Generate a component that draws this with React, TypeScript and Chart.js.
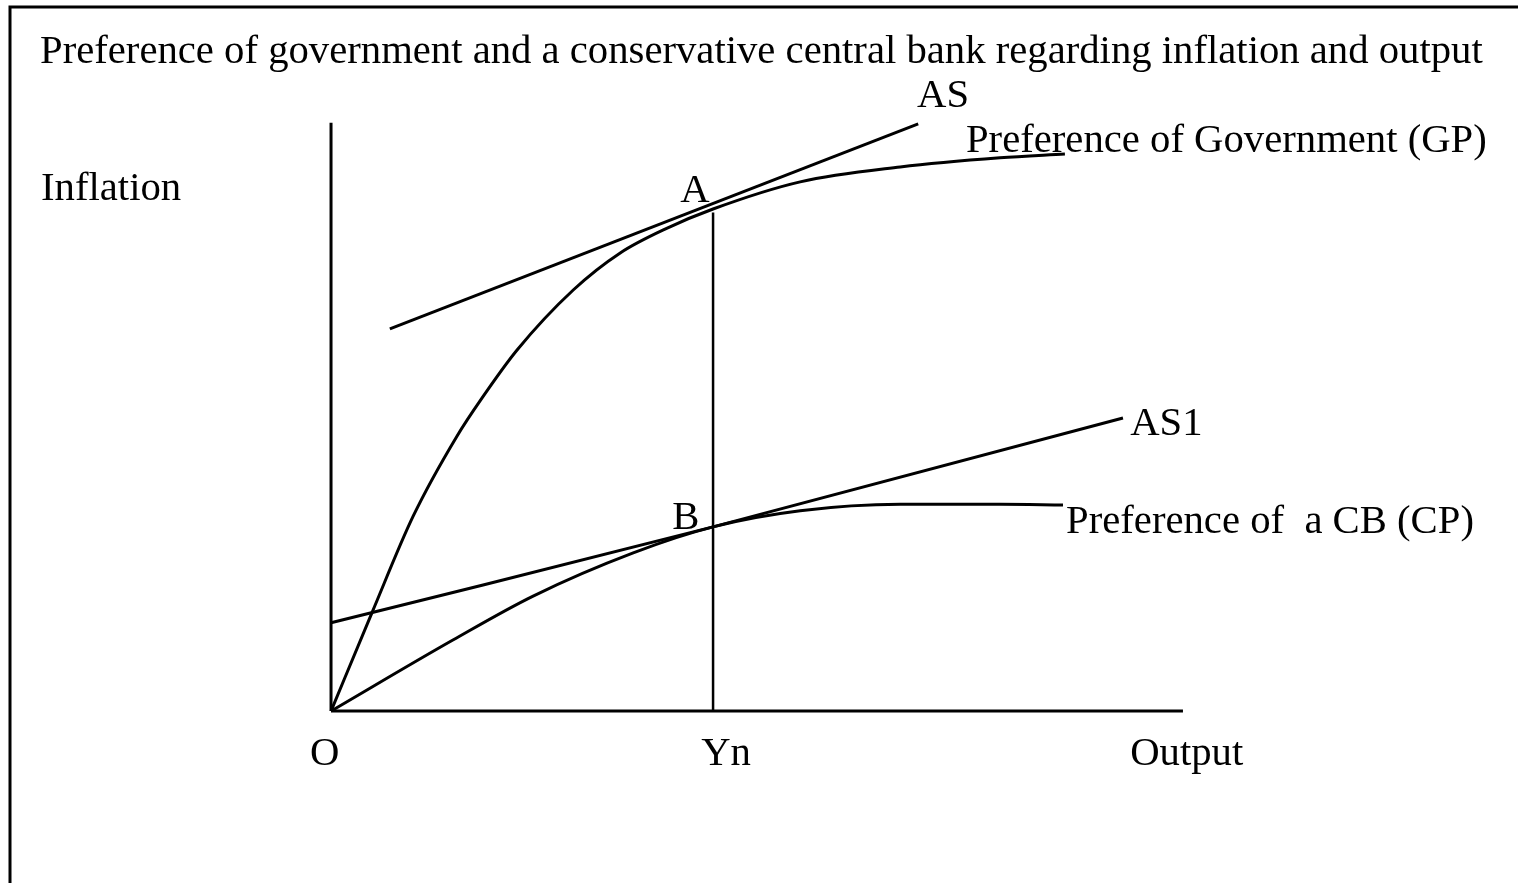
import React, { useEffect, useRef } from "react";
import { Chart, registerables } from "chart.js";

Chart.register(...registerables);

// Data units: Yn = 10 on the output axis; inflation in the same units.
const yAxisLine = [{ x: 0, y: 0 }, { x: 0, y: 15.4 }];
const xAxisLine = [{ x: 0, y: 0 }, { x: 22.3, y: 0 }];
const ynLine = [{ x: 10, y: 0 }, { x: 10, y: 13.05 }];

const asLine = [{ x: 1.54, y: 10.0 }, { x: 15.37, y: 15.37 }];
const as1Line = [
  { x: 0, y: 2.31 },
  { x: 3.98, y: 3.3 },
  { x: 10, y: 4.82 },
  { x: 20.73, y: 7.67 },
];

const gpCurve = [
  { x: 0, y: 0 },
  { x: 1.07, y: 2.57 },
  { x: 2.15, y: 5.1 },
  { x: 3.3, y: 7.2 },
  { x: 3.95, y: 8.19 },
  { x: 4.87, y: 9.45 },
  { x: 6.34, y: 11.02 },
  { x: 7.57, y: 11.99 },
  { x: 8.8, y: 12.64 },
  { x: 10, y: 13.14 },
  { x: 12.28, y: 13.85 },
  { x: 14.9, y: 14.24 },
  { x: 17.51, y: 14.48 },
  { x: 19.21, y: 14.58 },
];

const cpCurve = [
  { x: 0, y: 0 },
  { x: 3.19, y: 1.86 },
  { x: 5.29, y: 3.01 },
  { x: 7.91, y: 4.14 },
  { x: 10, y: 4.82 },
  { x: 12.28, y: 5.24 },
  { x: 14.9, y: 5.41 },
  { x: 17.51, y: 5.41 },
  { x: 19.16, y: 5.39 },
];

const titleText =
  "Preference of government and a conservative central bank regarding inflation and output";

const labelTexts = [
  "Inflation",
  "AS",
  "Preference of Government (GP)",
  "A",
  "AS1",
  "Preference of  a CB (CP)",
  "B",
  "O",
  "Yn",
  "Output",
];
const labelX = [-7.59, 15.34, 16.62, 9.14, 20.92, 19.24, 8.93, -0.55, 9.69, 20.92];
const labelY = [13.38, 15.81, 14.62, 13.32, 7.23, 4.66, 4.76, -1.41, -1.41, -1.41];

const X_MIN = -8.665;
const X_MAX = 31.07;
const Y_MIN = -4.5;
const Y_MAX = 18.61;

const FONT = '40.7px "Liberation Serif", "Times New Roman", serif';

const textPlugin = {
  id: "diagramText",
  afterDraw(chart: any) {
    const ctx = chart.ctx;
    const xs = chart.scales.x;
    const ys = chart.scales.y;
    ctx.save();
    // frame
    ctx.strokeStyle = "#000";
    ctx.lineWidth = 3;
    ctx.strokeRect(10, 7, 3000, 3000);
    // texts
    ctx.fillStyle = "#000";
    ctx.font = FONT;
    ctx.textAlign = "left";
    ctx.textBaseline = "alphabetic";
    ctx.fillText(titleText, 40, 63);
    labelTexts.forEach((t, i) => {
      ctx.fillText(t, xs.getPixelForValue(labelX[i]), ys.getPixelForValue(labelY[i]));
    });
    ctx.restore();
  },
};

function seg(data: any[], width: number, curved = false) {
  return {
    data,
    showLine: true,
    borderColor: "#000",
    borderWidth: width,
    pointRadius: 0,
    pointHoverRadius: 0,
    fill: false,
    tension: 0,
    cubicInterpolationMode: curved ? "monotone" : "default",
  };
}

export default function App() {
  const ref = useRef<HTMLCanvasElement | null>(null);
  useEffect(() => {
    document.body.style.margin = "0";
    const canvas = ref.current!;
    const chart = new Chart(canvas, {
      type: "scatter",
      data: {
        datasets: [
          seg(yAxisLine, 3),
          seg(xAxisLine, 3),
          seg(ynLine, 2.5),
          seg(asLine, 3),
          seg(as1Line, 3),
          seg(gpCurve, 3, true),
          seg(cpCurve, 3, true),
        ] as any,
      },
      options: {
        animation: false,
        responsive: false,
        maintainAspectRatio: false,
        layout: { padding: 0 },
        plugins: { legend: { display: false }, tooltip: { enabled: false }, title: { display: false } },
        scales: {
          x: { type: "linear", min: X_MIN, max: X_MAX, display: false },
          y: { type: "linear", min: Y_MIN, max: Y_MAX, display: false },
        },
      },
      plugins: [textPlugin],
    });
    return () => chart.destroy();
  }, []);
  return (
    <div style={{ position: "fixed", left: 0, top: 0, width: 1518, height: 883, background: "#fff" }}>
      <canvas ref={ref} width={1518} height={883} style={{ width: 1518, height: 883, display: "block" }} />
    </div>
  );
}
